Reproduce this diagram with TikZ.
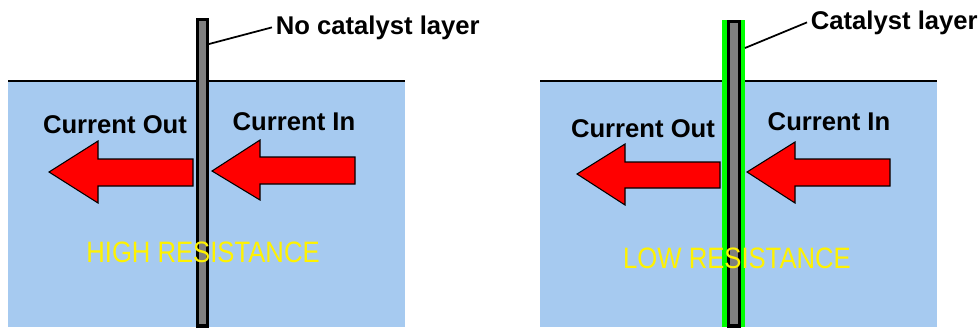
\documentclass[tikz,border=0pt]{standalone}
\usepackage{fontspec}
\setmainfont{Liberation Sans}
\usetikzlibrary{calc}
\definecolor{water}{HTML}{A6CAF0}
\definecolor{wallgray}{HTML}{808080}

\begin{document}
\begin{tikzpicture}[
  x=0.02cm, y=-0.02cm,
  tank/.style={fill=water, draw=none},
  surface/.style={draw=black, line width=0.9pt},
  wall/.style={draw=black, fill=wallgray, line width=1.9pt},
  catalyst/.style={fill=green, draw=none},
  flow/.style={draw=black, fill=red, line width=0.6pt, line join=miter},
  leader/.style={draw=black, line width=1pt},
  lbl/.style={font=\fontsize{14.6}{17}\selectfont\bfseries, inner sep=0pt, anchor=base},
  tag/.style={font=\fontsize{14.6}{17}\selectfont\bfseries, inner sep=2pt, anchor=base west},
  res/.style={font=\fontsize{14.6}{17}\selectfont, text=yellow, inner sep=0pt, anchor=base},
]
\useasboundingbox (0,0) rectangle (980,329);

% left cell, bare membrane
\fill[tank] (8,81) rectangle (405,327);
\draw[surface] (8,81) -- (405,81);
\draw[flow] (49,172) -- (98,141) -- (98,159) -- (193,159) -- (193,186) -- (98,186) -- (98,203) -- cycle;
\draw[flow] (212,171) -- (260,140) -- (260,157) -- (355,157) -- (355,184) -- (260,184) -- (260,200) -- cycle;
\draw[wall] (197.5,19.5) rectangle (207.5,326);
\coordinate (tapA) at (209,44);

\node[lbl] (outA) at (115,133) {Current Out};
\node[lbl] (inA)  at (294,130) {Current In};
\node[tag] (tagA) at (272,34)  {No catalyst layer};
\node[res] (resA) at (203,262) {\scalebox{1}[1.15]{HIGH RESISTANCE}};
\draw[leader] (tapA) -- (tagA.west);

% right cell, coated membrane
\fill[tank] (540,81) rectangle (937,327);
\draw[surface] (540,81) -- (937,81);
\draw[flow] (577,174) -- (625,144) -- (625,162) -- (720,162) -- (720,188) -- (625,188) -- (625,205) -- cycle;
\draw[flow] (747,172) -- (795,142) -- (795,159) -- (890,159) -- (890,186) -- (795,186) -- (795,203) -- cycle;
\fill[catalyst] (722,20) rectangle (745,327);
\draw[wall] (728.5,21.5) rectangle (739.5,326);
\coordinate (tapB) at (745,48);

\node[lbl] (outB) at (643,137) {Current Out};
\node[lbl] (inB)  at (829,130) {Current In};
\node[tag] (tagB) at (807,29)  {Catalyst layer};
\node[res] (resB) at (737,268) {\scalebox{1}[1.15]{LOW RESISTANCE}};
\draw[leader] (tapB) -- (tagB.west);

\end{tikzpicture}
\end{document}
